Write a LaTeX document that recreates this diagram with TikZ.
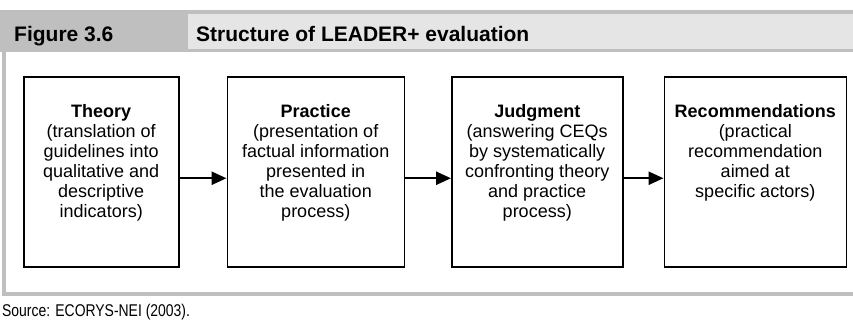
\documentclass[tikz,border=0pt]{standalone}
\usepackage{fontspec}
\setmainfont{Liberation Sans}
\newfontfamily\srcfont[FakeStretch=0.82]{Liberation Sans}
\usetikzlibrary{positioning, arrows.meta}
\definecolor{bandgray}{HTML}{BFBFBF}
\definecolor{titlegray}{HTML}{E5E5E5}
\tikzset{
  stagebox/.style={draw, line width=1.5pt, minimum width=#1, minimum height=190pt, inner sep=0pt},
  stagetext/.style={anchor=north, align=center, inner sep=0pt, font=\fontsize{18}{20}\selectfont},
  headtext/.style={anchor=base west, inner sep=0pt, font=\bfseries\fontsize{21}{24}\selectfont},
  flow/.style={-{Triangle[length=15pt,width=13pt]}, line width=2.5pt}
}

\begin{document}
\begin{tikzpicture}[x=1pt, y=1pt]
    \useasboundingbox (0,0) rectangle (853,320);
    % frame and header band
    \fill[bandgray] (0,268) rectangle (853,310);
    \fill[titlegray] (188,271) rectangle (853,306);
    \fill[bandgray] (2,24) rectangle (6,268);
    \fill[bandgray] (2,24) rectangle (853,28);

    \node[headtext] (fig) at (14,278) {Figure 3.6};
    \node[headtext] (ttl) at (196,278) {Structure of LEADER+ evaluation};
    \node[anchor=base west, inner sep=0pt, font=\srcfont\fontsize{17}{20}\selectfont] (src) at (2,3.5) {Source: ECORYS-NEI (2003).};

    % the four stages
    \node[stagebox=155pt, anchor=south west] (th) at (23,52) {};
    \node[stagebox=177pt, right=47pt of th] (pr) {};
    \node[stagebox=171pt, right=46pt of pr] (ju) {};
    \node[stagebox=182pt, right=40pt of ju] (re) {};

    \node[stagetext] (tht) at ([yshift=-28pt]th.north) {\textbf{Theory}\\(translation of\\guidelines into\\qualitative and\\descriptive\\indicators)};
    \node[stagetext] (prt) at ([yshift=-28pt]pr.north) {\textbf{Practice}\\(presentation of\\factual information\\presented in\\the evaluation\\process)};
    \node[stagetext] (jut) at ([yshift=-28pt]ju.north) {\textbf{Judgment}\\(answering CEQs\\by systematically\\confronting theory\\and practice\\process)};
    \node[stagetext] (ret) at ([yshift=-28pt]re.north) {\textbf{Recommendations}\\(practical\\recommendation\\aimed at\\specific actors)};

    \path[flow]
    ([yshift=-6pt]th.east) edge ([yshift=-6pt]pr.west)
    ([yshift=-6pt]pr.east) edge ([yshift=-6pt]ju.west)
    ([yshift=-6pt]ju.east) edge ([yshift=-6pt]re.west);
\end{tikzpicture}
\end{document}
